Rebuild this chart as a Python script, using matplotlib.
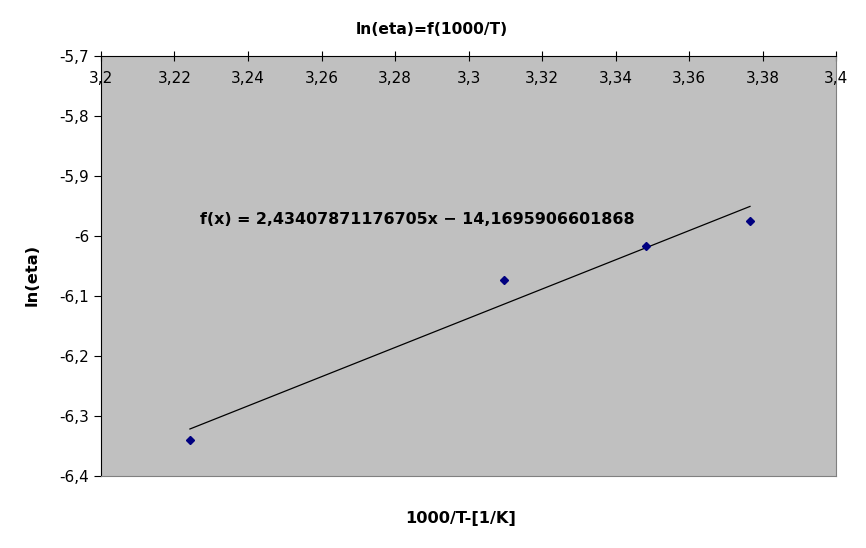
import matplotlib
matplotlib.use('Agg')
import matplotlib.pyplot as plt
from matplotlib.ticker import FuncFormatter, MultipleLocator
import numpy as np

# data
inv_t = [3.2242, 3.3097, 3.3483, 3.3766]
ln_eta = [-6.340, -6.073, -6.017, -5.975]
slope = 2.43407871176705
intercept = -14.1695906601868
eq_label = "f(x) = 2,43407871176705x \u2212 14,1695906601868"

plt.rcParams['font.family'] = ['DejaVu Sans']

fig = plt.figure(figsize=(8.66, 5.48), dpi=100)
ax = fig.add_axes([101 / 866, 72 / 548, 735 / 866, 420 / 548])
ax.set_facecolor('#c0c0c0')

ax.plot(inv_t, ln_eta, linestyle='none', marker='D', markersize=4.5,
        color='#000080', zorder=3)
xs = np.array([min(inv_t), max(inv_t)])
ax.plot(xs, slope * xs + intercept, color='black', linewidth=0.9, zorder=2)

ax.set_xlim(3.2, 3.4)
ax.set_ylim(-6.4, -5.7)
ax.xaxis.set_major_locator(MultipleLocator(0.02))
ax.yaxis.set_major_locator(MultipleLocator(0.1))

def comma(v, pos):
    s = f"{v:.2f}".rstrip('0').rstrip('.')
    return s.replace('.', ',')

ax.xaxis.set_major_formatter(FuncFormatter(comma))
ax.yaxis.set_major_formatter(FuncFormatter(comma))

ax.xaxis.tick_top()
ax.tick_params(axis='x', direction='inout', length=7, pad=-25, labelsize=11)
ax.tick_params(axis='y', direction='out', length=5, labelsize=11)

for side in ('left', 'top'):
    ax.spines[side].set_color('black')
for side in ('right', 'bottom'):
    ax.spines[side].set_color('#808080')

ax.text(200, 548 - 220, eq_label, transform=None, fontsize=11.4,
        fontweight='bold', va='center', ha='left')

fig.text(432 / 866, 1 - 30 / 548, "ln(eta)=f(1000/T)", ha='center',
         va='center', fontsize=11.2, fontweight='bold')
fig.text(461 / 866, 1 - 518 / 548, "1000/T-[1/K]", ha='center', va='center',
         fontsize=11.7, fontweight='bold')
fig.text(32 / 866, 1 - 275 / 548, "ln(eta)", ha='center', va='center',
         fontsize=11.7, fontweight='bold', rotation=90)

fig.savefig('out.png', dpi=100)
